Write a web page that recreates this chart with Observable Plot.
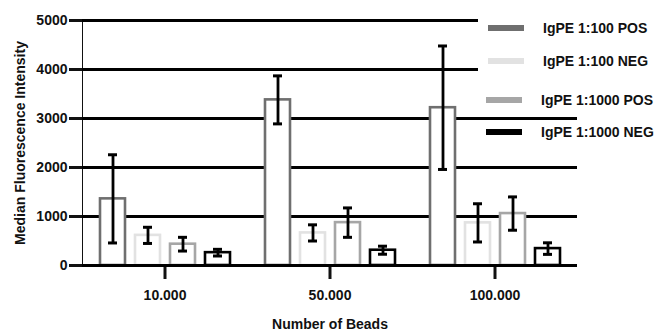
<!DOCTYPE html>
<html>
<head>
<meta charset="utf-8">
<script src="https://cdn.jsdelivr.net/npm/d3@7"></script>
<script src="https://cdn.jsdelivr.net/npm/@observablehq/plot@0.6"></script>
<style>
  body { margin: 0; background: #fff; }
  #wrap { position: relative; width: 660px; height: 330px; font-family: "Liberation Sans", Arial, sans-serif; font-weight: bold; }
  #legend { position: absolute; left: 478px; top: 0; width: 182px; height: 110px; background: #fff; }
  .row { position: absolute; left: 8px; display: flex; align-items: center; font-size: 14px; color: #111; white-space: nowrap; }
  .sw { width: 36px; height: 6px; margin-right: 19px; }
  svg [aria-label="y-axis tick"], svg [aria-label="fx-axis tick"], svg [aria-label="y-axis line"] { stroke-width: 3px; }
  svg g[aria-label="y-axis"] line, svg g[aria-label="y-axis"] path,
  svg g[aria-label="fx-axis"] line, svg g[aria-label="fx-axis"] path { stroke-width: 3px; }
</style>
</head>
<body>
<div id="wrap"></div>
<script>
// ---- data ----
const groups = ["10.000", "50.000", "100.000"];
const series = ["IgPE 1:100 POS", "IgPE 1:100 NEG", "IgPE 1:1000 POS", "IgPE 1:1000 NEG"];
const seriesColors = ["#6f6f6f", "#e2e2e2", "#a6a6a6", "#000000"];

const pos100 = [1360, 3380, 3220];
const neg100 = [615, 665, 870];
const pos1000 = [435, 875, 1060];
const neg1000 = [262, 312, 345];

const pos100Err = [900, 490, 1260];
const neg100Err = [165, 165, 390];
const pos1000Err = [140, 300, 340];
const neg1000Err = [68, 82, 118];

const yTicks = [0, 1000, 2000, 3000, 4000, 5000];

// layout constants for the HTML legend (not data)
const legendRowTop = [28, 61, 100, 132];
const legendRowLeft = [10, 10, 8, 8];

// ---- build table ----
const means = [pos100, neg100, pos1000, neg1000];
const errs = [pos100Err, neg100Err, pos1000Err, neg1000Err];
const rows = [];
groups.forEach((g, gi) => {
  series.forEach((s, si) => {
    const v = means[si][gi], e = errs[si][gi];
    rows.push({group: g, series: s, value: v, lo: v - e, hi: v + e});
  });
});

const chart = Plot.plot({
  width: 660,
  height: 330,
  marginLeft: 82,
  marginRight: 83,
  marginTop: 20,
  marginBottom: 65,
  style: {fontFamily: "Liberation Sans, Arial, sans-serif", fontWeight: "bold", fontSize: "14px", color: "#111", background: "#fff"},
  facet: {data: rows, x: "group"},
  fx: {domain: groups, padding: 0, axis: "bottom", tickSize: 14, tickPadding: 11,
       label: "Number of Beads", labelAnchor: "center", labelOffset: 63, labelArrow: "none"},
  x: {domain: series, paddingInner: 10 / 35, paddingOuter: 0.5, axis: null},
  y: {domain: [0, 5000], ticks: yTicks, tickFormat: "d", tickSize: 13, tickPadding: 2, line: true,
      label: "Median Fluorescence Intensity", labelAnchor: "center", labelOffset: 67, labelArrow: "none"},
  color: {domain: series, range: seriesColors},
  marks: [
    Plot.ruleY(yTicks, {stroke: "#000", strokeWidth: 3}),
    Plot.barY(rows, {x: "series", y: "value", fill: "white", stroke: "series", strokeWidth: 2.6}),
    Plot.ruleY([0], {stroke: "#000", strokeWidth: 3}),
    Plot.ruleX(rows, {x: "series", y1: "lo", y2: "hi", stroke: "#000", strokeWidth: 2.8}),
    Plot.tickY(rows, {x: "series", y: "hi", stroke: "#000", strokeWidth: 3, insetLeft: 8, insetRight: 8}),
    Plot.tickY(rows, {x: "series", y: "lo", stroke: "#000", strokeWidth: 3, insetLeft: 8, insetRight: 8})
  ]
});

const wrap = document.getElementById("wrap");
wrap.appendChild(chart);

const legend = document.createElement("div");
legend.id = "legend";
series.forEach((s, i) => {
  const row = document.createElement("div");
  row.className = "row";
  row.style.top = (legendRowTop[i] - 9) + "px";
  row.style.left = legendRowLeft[i] + "px";
  row.style.height = "18px";
  const sw = document.createElement("span");
  sw.className = "sw";
  sw.style.background = seriesColors[i];
  const t = document.createElement("span");
  t.textContent = s;
  row.appendChild(sw);
  row.appendChild(t);
  legend.appendChild(row);
});
wrap.appendChild(legend);
</script>
</body>
</html>
